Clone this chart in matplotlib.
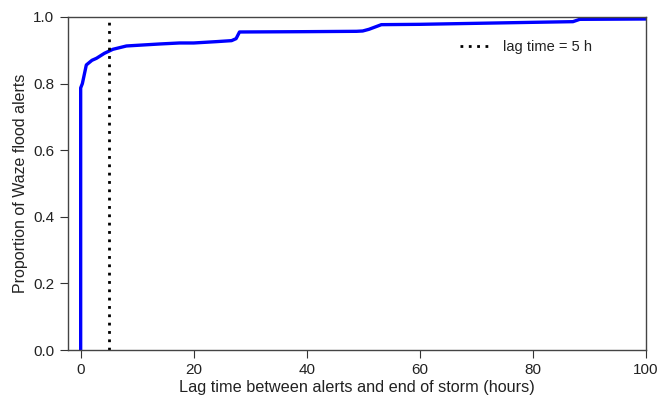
"""
Cumulative share of Waze flood alerts against lag time after the end of storm
"""

import numpy as np
import matplotlib
matplotlib.use("Agg")
import matplotlib.pyplot as plt

# empirical CDF of lag time (hours) vs proportion of alerts
lag_hours = [0.0, 0.0, 0.3, 1.0, 2.0, 2.8, 4.2, 5.7, 8.1, 14.0, 17.5, 20.0,
             24.0, 26.7, 27.5, 28.1, 40.0, 48.8, 49.9, 51.0, 53.2, 60.0,
             70.0, 80.0, 87.1, 88.3, 100.0]
proportion = [0.0, 0.787, 0.80, 0.856, 0.870, 0.876, 0.891, 0.903, 0.913,
              0.919, 0.922, 0.922, 0.926, 0.929, 0.935, 0.955, 0.956, 0.957,
              0.958, 0.963, 0.977, 0.978, 0.981, 0.984, 0.986, 0.993, 0.994]

lag_cutoff = 5
x_ticks = [0, 20, 40, 60, 80, 100]
y_ticks = [0.0, 0.2, 0.4, 0.6, 0.8, 1.0]

plt.rcParams["font.family"] = ["Liberation Sans", "DejaVu Sans"]


def plot_lag_cdf(outfile):
    fig = plt.figure(figsize=(6.7, 4.0), dpi=100)
    ax = fig.add_axes([0.101, 0.125, 0.863, 0.8325])

    ax.plot(lag_hours, proportion, color="#0000ff", lw=2.4, solid_joinstyle="round")
    ax.plot([lag_cutoff, lag_cutoff], [0, 1], color="black", lw=2,
            linestyle=(0, (1, 2)), label="lag time = %d h" % lag_cutoff)

    ax.set_xlim(-2.3, 100)
    ax.set_ylim(0, 1)
    ax.set_xticks(x_ticks)
    ax.set_xticklabels([str(t) for t in x_ticks])
    ax.set_yticks(y_ticks)
    ax.set_yticklabels(["%.1f" % t for t in y_ticks])
    ax.tick_params(direction="out", length=6, width=0.8, labelsize=11,
                   colors="#333333", labelcolor="#222222")
    for s in ax.spines.values():
        s.set_color("#444444")
        s.set_linewidth(1.0)

    ax.set_xlabel("Lag time between alerts and end of storm (hours)",
                  fontsize=11.7, color="#222222", labelpad=2)
    ax.set_ylabel("Proportion of Waze flood alerts", fontsize=11.5,
                  color="#222222", labelpad=4)

    leg = ax.legend(loc="upper right", frameon=False, fontsize=10.5,
                    handlelength=2.2, bbox_to_anchor=(0.93, 0.97))
    for t in leg.get_texts():
        t.set_color("#222222")

    fig.savefig(outfile, dpi=100)


if __name__ == "__main__":
    plot_lag_cdf("out.png")
